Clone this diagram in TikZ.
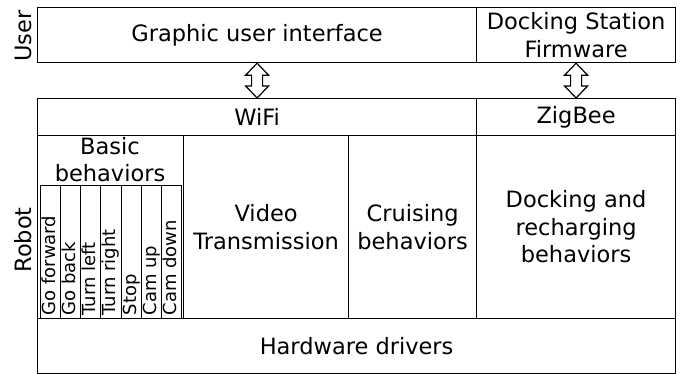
\documentclass[tikz,border=0pt]{standalone}
\usepackage{fontspec}
\setmainfont{DejaVu Sans}
\usetikzlibrary{calc}
\newcommand\hollowarr[2]{%
  \draw[arrowline] let \p1=(#1), \p2=(#2) in
    (\x1,\y1) -- (\x1+11.5pt,\y1-12pt) -- (\x1+5.5pt,\y1-12pt) --
    (\x1+5.5pt,\y2+12pt) -- (\x1+11.5pt,\y2+12pt) -- (\x1,\y2) --
    (\x1-11.5pt,\y2+12pt) -- (\x1-5.5pt,\y2+12pt) --
    (\x1-5.5pt,\y1-12pt) -- (\x1-11.5pt,\y1-12pt) -- cycle;}
\begin{document}
\begin{tikzpicture}[x=1pt,y=-1pt,
  box/.style={draw, line width=1.2pt, rectangle, inner sep=0pt, anchor=north west,
    align=center, font=\fontsize{22.5}{27.5}\selectfont},
  colbox/.style={draw, line width=0.8pt, rectangle, inner sep=0pt, anchor=north west,
    minimum width=20.14pt, minimum height=133pt},
  collabel/.style={inner sep=0pt, anchor=base west, rotate=90,
    font=\fontsize{18}{22}\selectfont},
  sidelabel/.style={inner sep=0pt, rotate=90, font=\fontsize{22.5}{27}\selectfont},
  plaintext/.style={inner sep=0pt, align=center, font=\fontsize{22.5}{27}\selectfont},
  arrowline/.style={draw, line width=1.2pt, fill=white, line join=miter}]
\useasboundingbox (0,0) rectangle (681,374);
% top row
\node[box, minimum width=439pt, minimum height=55pt] (gui) at (37,7) {Graphic user interface};
\node[box, minimum width=199pt, minimum height=55pt] (dock) at (476,7) {Docking Station\\Firmware};
% comm row
\node[box, minimum width=439pt, minimum height=37pt] (wifi) at (37,98) {WiFi};
\node[box, minimum width=199pt, minimum height=37pt] (zigbee) at (476,98) {ZigBee};
% middle row
\node[box, minimum width=146pt, minimum height=183pt] (basic) at (37,135) {};
\node[box, minimum width=165pt, minimum height=183pt] (video) at (183,135) {Video\\Transmission};
\node[box, minimum width=128pt, minimum height=183pt] (cruise) at (348,135) {Cruising\\behaviors};
\node[box, minimum width=199pt, minimum height=183pt] (dockbeh) at (476,135) {Docking and\\recharging\\behaviors};
% hardware
\node[box, minimum width=638pt, minimum height=55pt] (hw) at (37,318) {Hardware drivers};
% basic behaviors title
\node[plaintext] (basictitle) at (110,160) {Basic\\behaviors};
% columns
\foreach \i/\t in {1/Go forward,2/Go back,3/Turn left,4/Turn right,5/Stop,6/Cam up,7/Cam down}{
  \node[colbox] (col\i) at ({40+20.14*(\i-1)},185) {};
  \node[collabel] (lab\i) at ({40+20.14*(\i-1)+15.5},315.5) {\t};
}
% side labels
\node[sidelabel] (user) at (23,36) {User};
\node[sidelabel] (robot) at (23,240) {Robot};
% arrows
\hollowarr{gui.south}{wifi.north}
\hollowarr{dock.south}{zigbee.north}
\end{tikzpicture}
\end{document}
